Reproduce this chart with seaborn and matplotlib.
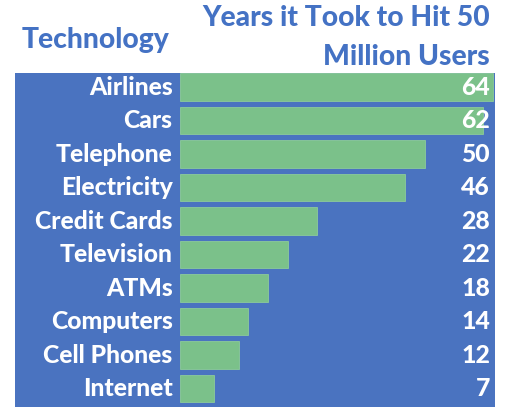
import matplotlib
matplotlib.use("Agg")
import matplotlib.pyplot as plt
import seaborn as sns
import pandas as pd

technologies = ["Airlines", "Cars", "Telephone", "Electricity", "Credit Cards",
                "Television", "ATMs", "Computers", "Cell Phones", "Internet"]
years = [64, 62, 50, 46, 28, 22, 18, 14, 12, 7]

BLUE = "#4A73C0"
GREEN = "#7BC18A"

sns.set_style("white")
plt.rcParams['font.family'] = ['Lato', 'DejaVu Sans']

df = pd.DataFrame({"tech": technologies, "years": years})

fig = plt.figure(figsize=(5.07, 4.16), dpi=100)
ax = fig.add_axes([15 / 507, 9 / 416, 480 / 507, 334 / 416])
ax.set_facecolor(BLUE)

sns.barplot(data=df, x="years", y="tech", orient="h", color=GREEN,
            width=0.82, saturation=1, edgecolor="#8CCB9A", linewidth=0.6,
            ax=ax)

ax.set_xlim(-33.7, 64.4)
ax.set_ylim(9.55, -0.42)
ax.set_xticks([])
ax.set_yticks([])
ax.set_xlabel("")
ax.set_ylabel("")
for s in ax.spines.values():
    s.set_visible(False)

for i, (t, v) in enumerate(zip(technologies, years)):
    ax.text(-1.5, i, t, ha="right", va="center", color="white",
            fontsize=17.8, fontweight="black")
    ax.text(63.4, i, str(v), ha="right", va="center", color="white",
            fontsize=17.8, fontweight="black")

fig.text(95 / 507, 1 - 40 / 416, "Technology", ha="center", va="center",
         color="#4472C4", fontsize=20.3, fontweight="black")
fig.text(490 / 507, 1 - 18 / 416, "Years it Took to Hit 50", ha="right",
         va="center", color="#4472C4", fontsize=20.3, fontweight="black")
fig.text(490 / 507, 1 - 57 / 416, "Million Users", ha="right",
         va="center", color="#4472C4", fontsize=20.3, fontweight="black")

fig.savefig("out.png", dpi=100)
